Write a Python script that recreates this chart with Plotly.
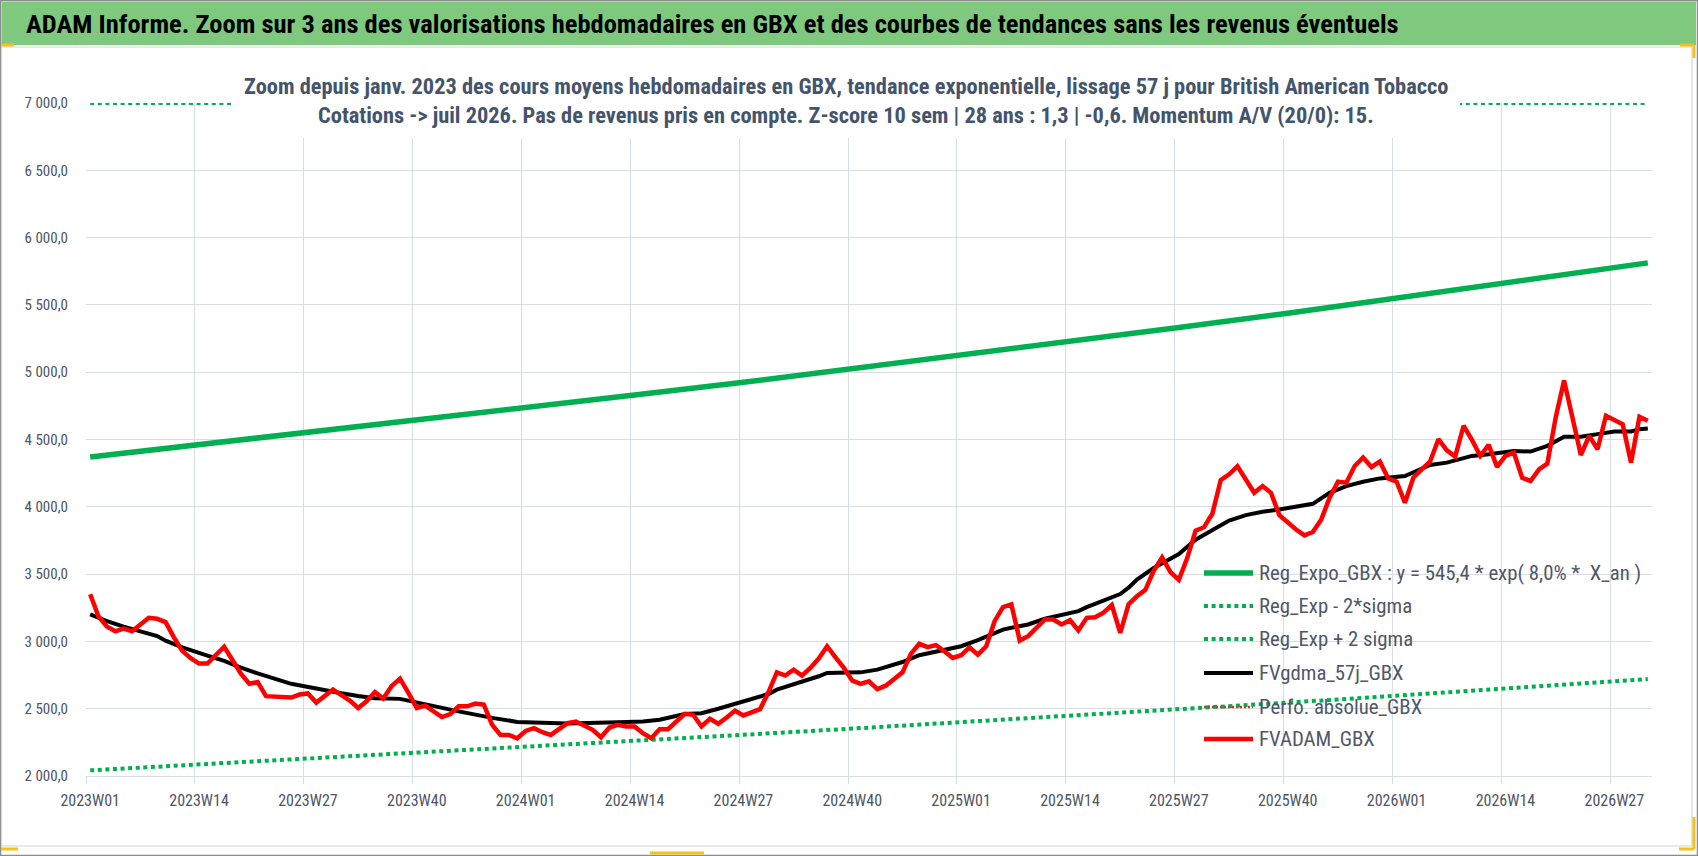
import plotly.graph_objects as go

# ---------------- data ----------------
week_labels = []
for yr in (2023, 2024, 2025):
    for w in range(1, 53):
        week_labels.append(f"{yr}W{w:02d}")
for w in range(1, 32):
    week_labels.append(f"2026W{w:02d}")

# FVADAM_GBX weekly values
fvadam = [
    3350, 3185, 3110, 3075, 3095, 3075, 3125, 3175, 3168, 3143,
    3030, 2930, 2875, 2835, 2835, 2893, 2960, 2860, 2760, 2685,
    2698, 2593, 2590, 2583, 2583, 2605, 2613, 2545, 2593, 2643,
    2600, 2560, 2505, 2555, 2623, 2575, 2668, 2723, 2618, 2505,
    2523, 2480, 2438, 2460, 2518, 2518, 2538, 2530, 2380, 2305,
    2305, 2280, 2335, 2355, 2325, 2305, 2348, 2393, 2405, 2375,
    2343, 2288, 2360, 2380,
    2368, 2368, 2318, 2281, 2348, 2348, 2400, 2462, 2455, 2368,
    2425, 2388, 2435, 2485, 2450, 2475, 2497, 2624, 2770, 2746,
    2790, 2746, 2803, 2872, 2964, 2882, 2803, 2708, 2684, 2703,
    2646, 2671, 2723, 2770, 2907, 2982, 2957, 2972, 2927, 2877,
    2897, 2957, 2902, 2964, 3150, 3255, 3275, 3006, 3039, 3096,
    3163, 3163, 3126, 3158, 3081, 3175, 3180, 3213, 3270, 3064,
    3276, 3335, 3383, 3525, 3624, 3515, 3457, 3619, 3823, 3848,
    3948, 4199, 4241, 4301, 4196, 4104, 4154, 4104, 3938, 3880,
    3831, 3788, 3813, 3905, 4067, 4186, 4179, 4303, 4366, 4296,
    4336, 4211, 4186, 4030, 4216, 4278, 4336, 4502, 4420, 4373,
    4602, 4497, 4378, 4460, 4296, 4378, 4403, 4216, 4191, 4278,
    4321, 4664, 4938, 4664, 4385, 4527, 4428, 4677, 4644, 4614,
    4328, 4669, 4639,
]

# FVgdma_57j_GBX (smoothed) read at these week indexes
gdma_idx = [0, 2, 4, 6, 8, 9, 11, 14, 16, 18, 20, 24, 26, 30, 32, 34, 37, 40, 44, 48,
            51, 57, 61, 63, 66, 68, 71, 73, 75, 77, 79, 81, 82, 84, 87, 88, 90, 92, 94, 97,
            99, 102, 104, 106, 109, 110, 112, 114, 116, 118, 119, 121, 123, 124, 125, 127, 129, 130, 132, 134,
            136, 138, 140, 142, 144, 146, 148, 150, 152, 154, 157, 158, 160, 162, 164, 165, 167, 170, 172, 174,
            176, 178, 180, 182, 184, 185, 186]
gdma_val = [3200, 3150, 3110, 3078, 3040, 3005, 2955, 2895, 2855, 2805, 2762, 2685, 2660, 2615, 2595, 2578, 2573, 2530, 2480, 2432,
            2402, 2390, 2392, 2400, 2405, 2418, 2460, 2467, 2500, 2534, 2572, 2609, 2641, 2679, 2741, 2766, 2766, 2770, 2790, 2847,
            2897, 2939, 2964, 3009, 3088, 3101, 3126, 3168, 3200, 3225, 3255, 3300, 3352, 3399, 3459, 3545, 3619, 3649, 3756, 3831,
            3898, 3938, 3963, 3980, 4000, 4022, 4104, 4154, 4186, 4211, 4229, 4254, 4311, 4328, 4366, 4378, 4390, 4415, 4410, 4453,
            4520, 4520, 4540, 4560, 4560, 4577, 4582]

# regression lines read at tick weeks + last week
reg_idx = [0, 13, 26, 39, 52, 65, 78, 91, 104, 117, 130, 143, 156, 169, 182, 186]
reg_expo = [4370, 4460, 4550, 4642, 4735, 4830, 4925, 5025, 5125, 5228, 5332, 5438, 5548, 5660, 5772, 5812]
reg_minus = [2042, 2085, 2128, 2172, 2216, 2261, 2306, 2352, 2399, 2447, 2496, 2545, 2596, 2648, 2701, 2720]
# +2 sigma band lies above the axis maximum; Excel shows it pinned on the top edge
reg_plus_shown = [7000, 7000, 7000, 7000, 7000, 7000, 7000, 7000, 7000, 7000, 7000, 7000, 7000, 7000, 7000, 7000]

legend_names = ["Reg_Expo_GBX : y = 545,4 * exp( 8,0% *  X_an )", "Reg_Exp - 2*sigma", "Reg_Exp + 2 sigma",
                "FVgdma_57j_GBX", "Perfo. absolue_GBX", "FVADAM_GBX"]

# ---------------- layout geometry ----------------
W, H = 1698, 856
L, R, T, B = 86, 46, 103, 80
PW, PH = W - L - R, H - T - B


def px(x):
    return (x - L) / PW


def py(y):
    return (H - B - y) / PH


FONT = "Roboto Condensed, Arial Narrow, Liberation Sans Narrow, Roboto, sans-serif"
GREEN = "#00B050"
GRID = "#D9DDE4"
TXT = "#4D5564"
DOT = "4px,3.6px"

styles = [
    dict(color=GREEN, width=5.5),
    dict(color=GREEN, width=4, dash=DOT),
    dict(color=GREEN, width=4, dash=DOT),
    dict(color="#000000", width=4),
    dict(color="#C0392B", width=2.5, dash="2px,2px"),
    dict(color="#FF0000", width=4.5),
]

fig = go.Figure()
reg_x = [week_labels[i] for i in reg_idx]

fig.add_trace(go.Scatter(x=reg_x, y=reg_expo, mode="lines", name=legend_names[0], line=styles[0]))
fig.add_trace(go.Scatter(x=reg_x, y=reg_minus, mode="lines", name=legend_names[1], line=styles[1]))
fig.add_trace(go.Scatter(x=reg_x, y=reg_plus_shown, mode="lines", name=legend_names[2], line=styles[2]))
fig.add_trace(go.Scatter(x=[week_labels[i] for i in gdma_idx], y=gdma_val, mode="lines", name=legend_names[3],
                         line=styles[3]))
fig.add_trace(go.Scatter(x=week_labels, y=fvadam, mode="lines", name=legend_names[5], line=styles[5]))

shapes = []
# outer border
shapes.append(dict(type="rect", xref="paper", yref="paper", x0=px(0.5), x1=px(1697.5), y0=py(855.5), y1=py(0.5),
                   line=dict(color="#8C8C8C", width=1.5), fillcolor="rgba(0,0,0,0)", layer="below"))
# header bar
shapes.append(dict(type="rect", xref="paper", yref="paper", x0=px(1.5), x1=px(1696), y0=py(45), y1=py(1.5),
                   line=dict(width=0), fillcolor="#7FC97F", layer="below"))
# chart area border
shapes.append(dict(type="rect", xref="paper", yref="paper", x0=px(1.5), x1=px(1692), y0=py(846), y1=py(47),
                   line=dict(color="#D6D6D6", width=1.2), fillcolor="rgba(0,0,0,0)", layer="below"))
# white box behind chart title
shapes.append(dict(type="rect", xref="paper", yref="paper", x0=px(233), x1=px(1460), y0=py(138), y1=py(64),
                   line=dict(width=0), fillcolor="#FFFFFF", layer="above"))
# selection handles (yellow)
Y = "#F5C21B"
for (xa, ya, xb, yb) in [(1, 45, 14, 45), (1680, 45, 1694, 45), (1694, 45, 1694, 58),
                         (1, 849, 18, 849), (1679, 849, 1694, 849), (1694, 817, 1694, 849), (650, 853, 704, 853)]:
    shapes.append(dict(type="line", xref="paper", yref="paper", x0=px(xa), x1=px(xb), y0=py(ya), y1=py(yb),
                       line=dict(color=Y, width=3), layer="above"))

annotations = [
    dict(text="ADAM Informe. Zoom sur 3 ans des valorisations hebdomadaires en GBX et des courbes de tendances sans les revenus éventuels",
         xref="paper", yref="paper", x=px(24), y=py(24), xanchor="left", yanchor="middle", showarrow=False,
         font=dict(family=FONT, size=26.5, color="#000000", weight="bold")),
    dict(text="Zoom depuis janv. 2023 des cours moyens hebdomadaires en GBX, tendance exponentielle, lissage 57 j pour British American Tobacco",
         xref="paper", yref="paper", x=px(846), y=py(86), xanchor="center", yanchor="middle", showarrow=False,
         font=dict(family=FONT, size=22.4, color="#44546A", weight="bold")),
    dict(text="Cotations -> juil 2026. Pas de revenus pris en compte. Z-score 10 sem | 28 ans : 1,3 | -0,6. Momentum A/V (20/0): 15.",
         xref="paper", yref="paper", x=px(846), y=py(115), xanchor="center", yanchor="middle", showarrow=False,
         font=dict(family=FONT, size=22.4, color="#44546A", weight="bold")),
]

# manual legend (long line samples as in the original)
leg_y = [573, 606, 639, 673, 707, 739]
for name, st, yy in zip(legend_names, styles, leg_y):
    ln = dict(color=st["color"], width=st["width"])
    if "dash" in st:
        ln["dash"] = st["dash"]
    shapes.append(dict(type="line", xref="paper", yref="paper", x0=px(1204), x1=px(1253), y0=py(yy), y1=py(yy),
                       line=ln, layer="above"))
    annotations.append(dict(text=name, xref="paper", yref="paper", x=px(1257), y=py(yy), xanchor="left",
                            yanchor="middle", showarrow=False,
                            font=dict(family=FONT, size=20.8, color="#4F5868")))

fig.update_layout(
    width=W, height=H,
    margin=dict(l=L, r=R, t=T, b=B, pad=0),
    paper_bgcolor="#FFFFFF", plot_bgcolor="#FFFFFF",
    separators=", ",
    font=dict(family=FONT, size=16, color=TXT),
    shapes=shapes, annotations=annotations,
    showlegend=False,
    xaxis=dict(type="category", categoryorder="array", categoryarray=week_labels,
               range=[-0.5, len(week_labels) - 0.5], tickmode="linear", tick0=0, dtick=13,
               tickson="boundaries", showgrid=True, gridcolor=GRID, gridwidth=1, tickangle=0,
               ticks="outside", ticklen=7, tickcolor=GRID, showline=True, linecolor=GRID, linewidth=1,
               tickfont=dict(family=FONT, size=16, color=TXT), ticklabelstandoff=10, zeroline=False),
    yaxis=dict(range=[2000, 7000], tick0=2000, dtick=500, tickformat=",.1f", showgrid=True, gridcolor=GRID,
               gridwidth=1, zeroline=False, showline=False, ticks="",
               tickfont=dict(family=FONT, size=15, color=TXT), ticklabelstandoff=17),
)

fig.write_html("out.html", include_plotlyjs=True, full_html=True, config={"displayModeBar": False},
               post_script="document.body.style.margin='0';document.body.style.overflow='hidden';")
